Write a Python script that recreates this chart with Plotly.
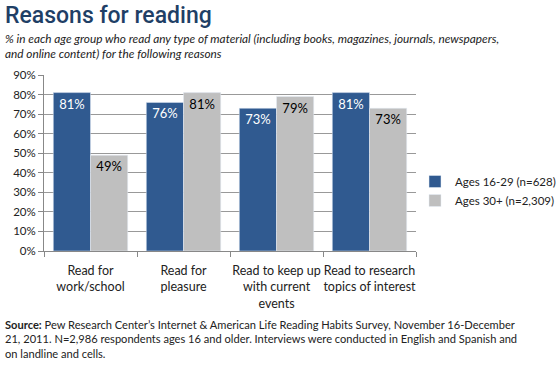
import plotly.graph_objects as go

categories = ["Read for<br>work/school", "Read for<br>pleasure",
              "Read to keep up<br>with current<br>events", "Read to research<br>topics of interest"]
young = [81, 76, 73, 81]
older = [49, 81, 79, 73]
series_names = ["Ages 16-29 (n=628)", "Ages 30+ (n=2,309)"]
tick_vals = [0, 10, 20, 30, 40, 50, 60, 70, 80, 90]
tick_text = [f"{v}%" for v in tick_vals]

BLUE = "#305a90"
GRAY = "#bfbfbf"
FONT = "Lato"

W, H = 560, 373
L, R, T, B = 44, 144, 75, 122
pw, ph = W - L - R, H - T - B

def px(x):
    return (x - L) / pw

def py(y):
    return (H - B - y) / ph

fig = go.Figure()
fig.add_trace(go.Bar(x=categories, y=young, name=series_names[0], marker_color=BLUE,
                     text=[f"{v}%" for v in young], textposition="inside",
                     insidetextanchor="end", textfont=dict(color="white", size=13, family=FONT),
                     cliponaxis=False))
fig.add_trace(go.Bar(x=categories, y=older, name=series_names[1], marker_color=GRAY,
                     text=[f"{v}%" for v in older], textposition="inside",
                     insidetextanchor="end", textfont=dict(color="black", size=13, family=FONT),
                     cliponaxis=False))

fig.update_layout(
    width=W, height=H,
    margin=dict(l=L, r=R, t=T, b=B, autoexpand=False),
    paper_bgcolor="white", plot_bgcolor="white",
    barmode="group", bargap=0.2, bargroupgap=0,
    font=dict(family=FONT, size=12, color="#222"),
    uniformtext=dict(minsize=8, mode="show"),
    legend=dict(x=px(415), y=py(167), xanchor="left", yanchor="top",
                font=dict(size=11.5, family=FONT, color="#222"),
                bgcolor="rgba(0,0,0,0)", tracegroupgap=0),
    showlegend=True,
)
fig.update_yaxes(range=[0, 90], tickvals=tick_vals, ticktext=tick_text,
                 showgrid=True, gridcolor="#999999", gridwidth=1,
                 showline=True, linecolor="#888", ticks="outside", ticklen=5,
                 tickcolor="#888", tickfont=dict(size=11.5, family=FONT, color="#222"),
                 zeroline=False, fixedrange=True)
fig.update_xaxes(showline=True, linecolor="#888", ticks="outside", ticklen=5,
                 tickcolor="#888", tickson="boundaries", tickangle=0,
                 ticklabelstandoff=8,
                 tickfont=dict(size=12.5, family=FONT, color="#222"))

ann = [
    dict(text="Reasons for reading", x=px(3), y=py(0), xanchor="left", yanchor="top",
         font=dict(size=23, family="Roboto", color="#1f3f66", weight=500)),
    dict(text="<i>% in each age group who read any type of material (including books, magazines, journals, newspapers,<br>and online content) for the following reasons</i>",
         x=px(3), y=py(29), xanchor="left", yanchor="top", align="left",
         font=dict(size=11.8, family=FONT, color="#222")),
    dict(text="<b>Source:</b> Pew Research Center’s Internet & American Life Reading Habits Survey, November 16-December<br>21, 2011. N=2,986 respondents ages 16 and older. Interviews were conducted in English and Spanish and<br>on landline and cells.",
         x=px(3), y=py(316), xanchor="left", yanchor="top", align="left",
         font=dict(size=11.1, family=FONT, color="#222")),
]
for a in ann:
    a.update(xref="paper", yref="paper", showarrow=False)
fig.update_layout(annotations=ann)

fig.write_html("out.html", config={"displayModeBar": False},
               post_script="document.body.style.margin='0';document.body.style.padding='0';")
